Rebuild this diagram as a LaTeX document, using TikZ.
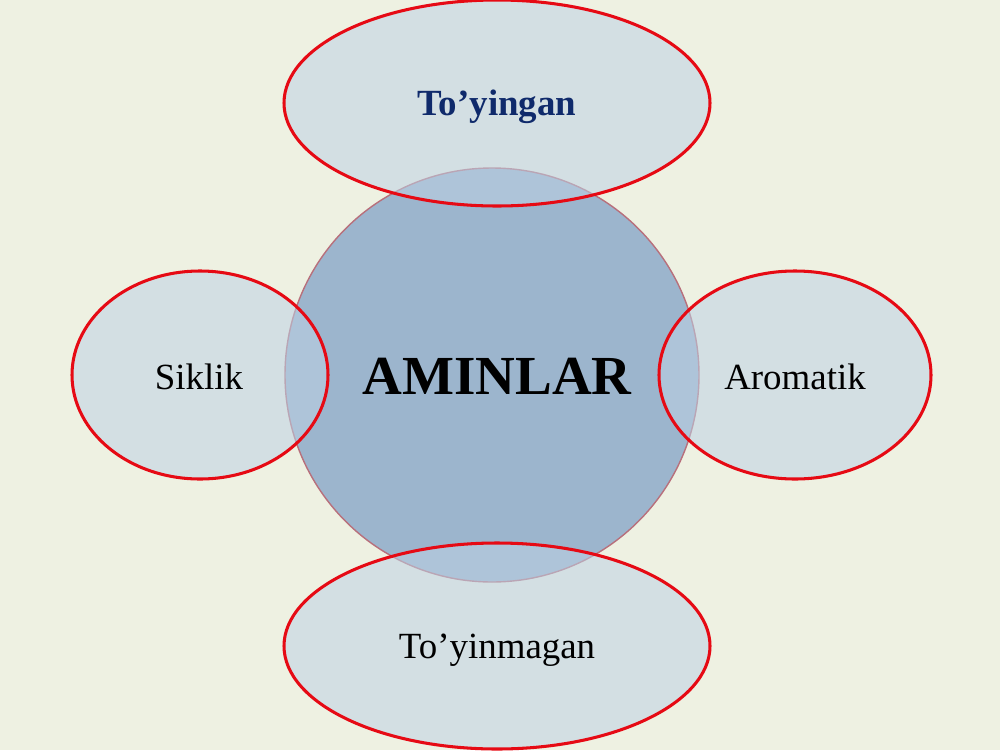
\documentclass[tikz,border=0pt]{standalone}
\usepackage{fontspec}
\setmainfont{Liberation Serif}
\usetikzlibrary{shapes.geometric}
\definecolor{bgc}{HTML}{EEF1E2}
\definecolor{circfill}{HTML}{9CB5CD}
\definecolor{circline}{HTML}{B8707C}
\definecolor{ellfill}{RGB}{189,210,228}
\definecolor{ellline}{HTML}{E60A14}
\definecolor{navy}{HTML}{0F2A6B}
\begin{document}
\begin{tikzpicture}[x=0.03cm,y=-0.03cm,
  petal/.style={ellipse, draw=ellline, line width=2.6pt, fill=ellfill, fill opacity=0.55, text opacity=1, inner sep=0pt},
  lbl/.style={font=\fontsize{31.5}{36}\selectfont, text=black}]
\fill[bgc] (0,0) rectangle (1000,750);
\useasboundingbox (0,0) rectangle (1000,750);
\node[circle, draw=circline, line width=1.2pt, fill=circfill, minimum size=414*0.03cm, inner sep=0pt] (c) at (492,375) {};
\node[petal, minimum width=426*0.03cm, minimum height=206*0.03cm] (top) at (497,103) {};
\node[petal, minimum width=256*0.03cm, minimum height=208*0.03cm] (left) at (200,375) {};
\node[petal, minimum width=272*0.03cm, minimum height=208*0.03cm] (right) at (795,375) {};
\node[petal, minimum width=426*0.03cm, minimum height=206*0.03cm] (bot) at (497,646) {};
\node[font=\fontsize{47}{54}\selectfont\bfseries, text=black] (t0) at (497,376) {AMINLAR};
\node[lbl, text=navy, font=\fontsize{31.5}{36}\selectfont\bfseries] (t1) at (497,107) {To’yingan};
\node[lbl] (t2) at (199,377) {Siklik};
\node[lbl] (t3) at (795,377) {Aromatik};
\node[lbl] (t4) at (497,650) {To’yinmagan};
\end{tikzpicture}
\end{document}
